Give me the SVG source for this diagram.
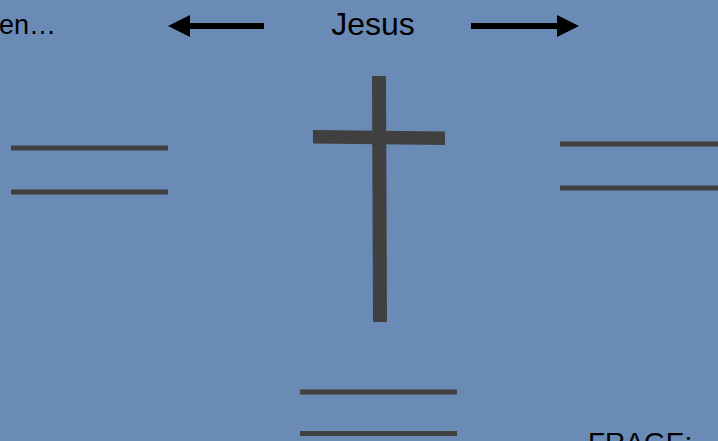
<svg xmlns="http://www.w3.org/2000/svg" width="718" height="441" viewBox="0 0 718 441">
<style>
.t{font-family:"Liberation Sans",Arial,sans-serif;fill:#000}
.bar{stroke:#404040;stroke-width:5;fill:none}
.arr{stroke:#000;stroke-width:6;fill:none}
</style>
<rect x="0" y="0" width="718" height="441" fill="#6a8bb6"/>
<g id="top-text">
<text class="t" x="56" y="34" font-size="27" text-anchor="end">en…</text>
<text class="t" x="373" y="35" font-size="32" text-anchor="middle">Jesus</text>
</g>
<g id="arrows">
<line class="arr" x1="264" y1="26" x2="188" y2="26"/>
<polygon points="168,26 190,15 190,37" fill="#000"/>
<line class="arr" x1="471" y1="26" x2="559" y2="26"/>
<polygon points="579,26 557,15 557,37" fill="#000"/>
</g>
<g id="cross" fill="#404040">
<polygon points="372,76 386,76 387,322 373,322"/>
<polygon points="313,130 445,131.5 445,145 313,143.5"/>
</g>
<g id="left-lines">
<line class="bar" x1="11" y1="148" x2="168" y2="148"/>
<line class="bar" x1="11" y1="192" x2="168" y2="192"/>
</g>
<g id="right-lines">
<line class="bar" x1="560" y1="144" x2="718" y2="144"/>
<line class="bar" x1="560" y1="188" x2="718" y2="188"/>
</g>
<g id="bottom-lines">
<line class="bar" x1="300" y1="392" x2="457" y2="392"/>
<line class="bar" x1="300" y1="433.5" x2="457" y2="433.5"/>
</g>
<g id="frage">
<text class="t" x="588" y="452" font-size="28">FRAGE:</text>
</g>
</svg>
